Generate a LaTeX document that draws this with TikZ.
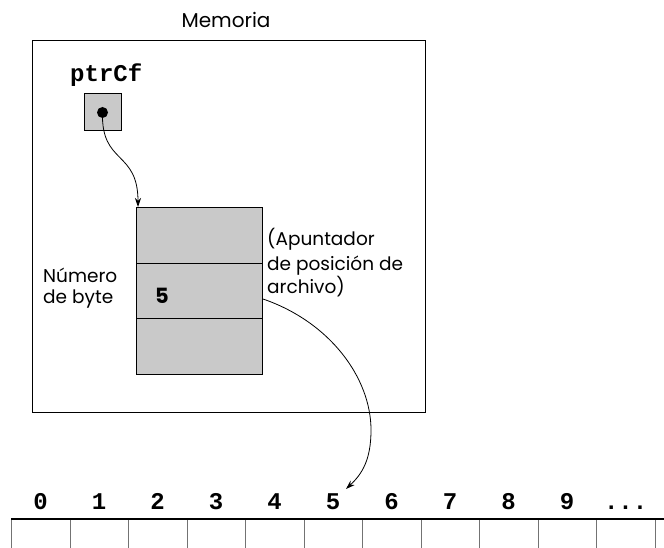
\documentclass[tikz,border=0pt]{standalone}
\usepackage{fontspec}
\setmainfont{Poppins}
\setmonofont{Liberation Mono}
\usetikzlibrary{arrows.meta}
\begin{document}
\begin{tikzpicture}[x=1pt,y=-1pt,
  lbl/.style={inner sep=0pt,font=\fontsize{18.5}{20}\selectfont},
  mono/.style={inner sep=0pt,font=\fontsize{24}{26}\ttfamily\bfseries},
  shaded/.style={draw=black,line width=1pt,fill=black!21,inner sep=0pt},
  bytecell/.style={draw=black!55,line width=0.8pt,minimum width=58.5pt,minimum height=40pt,inner sep=0pt,anchor=north west},
  arr/.style={line width=0.8pt,-{Stealth[length=9pt,width=6pt]}}]
\useasboundingbox (0,0) rectangle (664,548);
\clip (0,0) rectangle (664,548);
% memory frame
\node[lbl,anchor=base,font=\fontsize{20}{22}\selectfont] (mem) at (226,28) {Memoria};
\node[draw=black,line width=1pt,minimum width=393pt,minimum height=372pt,anchor=north west,inner sep=0pt] (frame) at (32,40) {};
% pointer
\node[mono,anchor=base west] (ptrlbl) at (70,82) {ptrCf};
\node[shaded,minimum width=37pt,minimum height=37pt] (ptr) at (102.5,112.5) {};
\fill (ptr.center) circle (5.5pt);
% file structure
\node[shaded,minimum width=126pt,minimum height=56pt,anchor=north west] (s1) at (136,207) {};
\node[shaded,minimum width=126pt,minimum height=55pt,anchor=north west] (s2) at (136,263) {};
\node[shaded,minimum width=126pt,minimum height=56pt,anchor=north west] (s3) at (136,318) {};
\node[lbl,anchor=base west,font=\fontsize{21}{22}\selectfont\bfseries] (five) at (155,303) {5};
\node[lbl,anchor=base west] (num1) at (43,282) {Número};
\node[lbl,anchor=base west] (num2) at (43,303) {de byte};
\node[lbl,anchor=base west] (ap1) at (267,246) {(Apuntador};
\node[lbl,anchor=base west] (ap2) at (267,270) {de posición de};
\node[lbl,anchor=base west] (ap3) at (267,293) {archivo)};
\draw[arr] (ptr.center) .. controls (101,165) and (138,150) .. ([xshift=2pt]s1.north west);
% bytes
\foreach \i in {0,...,10} {
  \node[bytecell] (c\i) at ({11+58.5*\i},519) {};
}
\foreach \i in {0,...,9} {
  \node[mono,anchor=base] (n\i) at ([yshift=10pt]c\i.north) {\i};
}
\node[mono,anchor=base] (ndots) at ([yshift=10pt]c10.north) {...};
\coordinate (topR) at (664,519);
\draw[line width=1.2pt] (c0.north west) -- (topR);
\coordinate (bend) at (371,430);
\coordinate (tip) at (346,489);
\draw[arr] ([yshift=-8pt]s2.east) .. controls (330,322) and (371,378) .. (bend) .. controls (371,460) and (362,474) .. (tip);
\end{tikzpicture}
\end{document}
